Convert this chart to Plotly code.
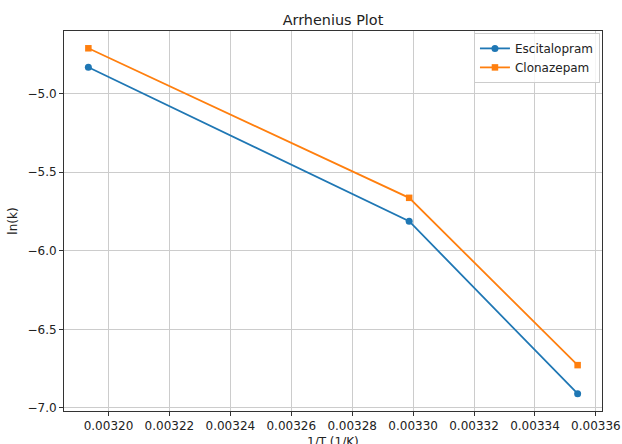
import plotly.graph_objects as go

# Data
inv_T = [0.0031934, 0.0032987, 0.0033540]
esc_lnk = [-4.832, -5.812, -6.910]
clon_lnk = [-4.711, -5.663, -6.728]

x_ticks = [0.00320, 0.00322, 0.00324, 0.00326, 0.00328, 0.00330, 0.00332, 0.00334, 0.00336]
x_tick_text = ["0.00320", "0.00322", "0.00324", "0.00326", "0.00328",
               "0.00330", "0.00332", "0.00334", "0.00336"]
y_ticks = [-7.0, -6.5, -6.0, -5.5, -5.0]
y_tick_text = ["\u22127.0", "\u22126.5", "\u22126.0", "\u22125.5", "\u22125.0"]

FONT = "DejaVu Sans, Arial, sans-serif"
TXT = "#222222"

fig = go.Figure()
fig.add_trace(go.Scatter(
    x=inv_T, y=esc_lnk, name="Escitalopram", mode="lines+markers",
    line=dict(color="#1f77b4", width=1.8),
    marker=dict(symbol="circle", size=7, color="#1f77b4"),
))
fig.add_trace(go.Scatter(
    x=inv_T, y=clon_lnk, name="Clonazepam", mode="lines+markers",
    line=dict(color="#ff7f0e", width=1.8),
    marker=dict(symbol="square", size=6.5, color="#ff7f0e"),
))

axis_common = dict(
    showgrid=True, gridcolor="#cccccc", gridwidth=1,
    zeroline=False, showline=True, linecolor="#333333", linewidth=1,
    mirror=True, ticks="outside", ticklen=4, tickwidth=1, tickcolor="#333333",
    tickfont=dict(family=FONT, size=12, color=TXT),
)

fig.update_layout(
    width=622, height=444,
    margin=dict(l=64, r=20, t=31, b=33, pad=0),
    paper_bgcolor="white", plot_bgcolor="white",
    font=dict(family=FONT, size=12, color=TXT),
    title=dict(text="Arrhenius Plot", x=0.5, xref="paper", xanchor="center",
               y=1 - 20 / 444, yref="container", yanchor="middle",
               font=dict(family=FONT, size=14.4, color=TXT)),
    xaxis=dict(range=[0.0031854, 0.0033620], tickvals=x_ticks, ticktext=x_tick_text,
               automargin=False, **axis_common),
    yaxis=dict(range=[-7.020, -4.601], tickvals=y_ticks, ticktext=y_tick_text,
               title=dict(text="ln(k)", standoff=7,
                          font=dict(family=FONT, size=12, color=TXT)),
               automargin=False, **axis_common),
    legend=dict(x=0.762, y=0.995, xanchor="left", yanchor="top",
                bgcolor="rgba(255,255,255,0.8)", bordercolor="#cccccc", borderwidth=1,
                font=dict(family=FONT, size=12, color=TXT),
                itemwidth=30, tracegroupgap=0),
    showlegend=True,
    annotations=[dict(
        text="1/T (1/K)", xref="paper", yref="paper", x=0.5, y=-31 / 380,
        xanchor="center", yanchor="middle", showarrow=False,
        font=dict(family=FONT, size=12, color=TXT),
    )],
)

fig.write_html(
    "out.html",
    config={"displayModeBar": False},
    post_script="document.body.style.margin='0px';document.body.style.padding='0px';",
)
